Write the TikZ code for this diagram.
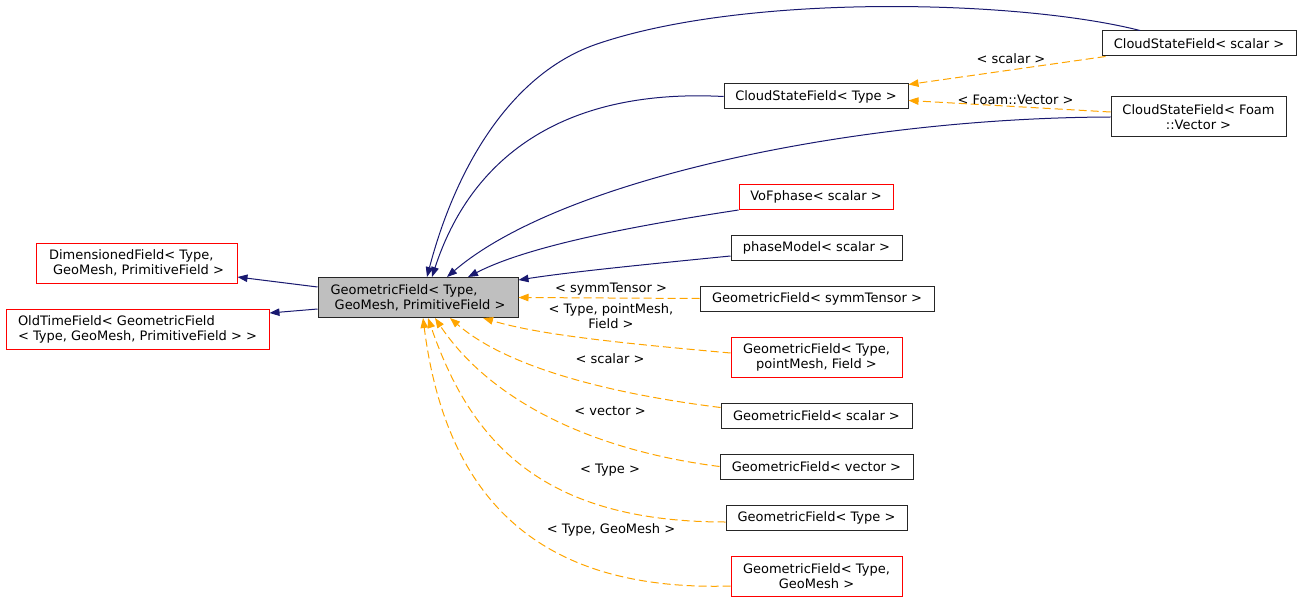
\documentclass[tikz,border=0pt]{standalone}
\usepackage{fontspec}
\setmainfont{DejaVu Sans}
\usetikzlibrary{arrows.meta, calc}
\definecolor{inhblue}{HTML}{191970}
\definecolor{tmplorange}{HTML}{FFA500}
\definecolor{curgray}{HTML}{BFBFBF}

\begin{document}
\begin{tikzpicture}[
      x=0.75pt, y=-0.75pt,
      font=\fontsize{9.75}{11.3}\selectfont,
      >={Triangle[length=7.5pt,width=5.6pt]},
      cls/.style={draw=black!85, fill=white, line width=0.75pt, inner sep=0pt,
        minimum height=18.75pt, align=center},
      undoc/.style={cls, draw=red},
      current/.style={cls, fill=curgray},
      tall/.style={minimum height=30pt},
      boxw/.style={minimum width=#1*0.75pt},
      inherit/.style={->, draw=inhblue, line width=0.75pt},
      tmpl/.style={->, draw=tmplorange, line width=0.75pt, dash pattern=on 6pt off 3pt},
      lbl/.style={align=center, inner sep=0pt}
      ]

      \useasboundingbox (0,0) rectangle (1301,602);

      % the class itself and its bases
      \node[current, tall, boxw=200, align=left] (gf)       at (418,297.5)  {GeometricField< Type,\\\ GeoMesh, PrimitiveField >};
      \node[undoc, tall, boxw=201, align=left]   (dimfield) at (136.5,263)  {DimensionedField< Type,\\\ GeoMesh, PrimitiveField >};
      \node[undoc, tall, boxw=263, align=left]   (oldtime)  at (137.5,329.5) {OldTimeField< GeometricField\\{}< Type, GeoMesh, PrimitiveField > >};

      % derived classes and instances
      \node[cls, boxw=194]           (csfscalar)  at (1199,43.5)   {CloudStateField< scalar >};
      \node[cls, boxw=184]           (csftype)    at (816,96.5)    {CloudStateField< Type >};
      \node[cls, tall, boxw=175]     (csfvector)  at (1198.5,117)  {CloudStateField< Foam\\::Vector >};
      \node[undoc, boxw=154]         (vofphase)   at (816,197)     {VoFphase< scalar >};
      \node[cls, boxw=171]           (phasemodel) at (816.5,248)   {phaseModel< scalar >};
      \node[cls, boxw=234]           (gfsymm)     at (817,298.5)   {GeometricField< symmTensor >};
      \node[undoc, tall, boxw=171]   (gfpoint)    at (816.5,357)   {GeometricField< Type,\\pointMesh, Field >};
      \node[cls, boxw=191]           (gfscalar)   at (816.5,415.5) {GeometricField< scalar >};
      \node[cls, boxw=193]           (gfvector)   at (816.5,466.5) {GeometricField< vector >};
      \node[cls, boxw=181]           (gftype)     at (816.5,517.5) {GeometricField< Type >};
      \node[undoc, tall, boxw=171]   (gfgeomesh)  at (816.5,576)   {GeometricField< Type,\\GeoMesh >};

      % inheritance
      \draw[inherit] ($(gf.west)+(0,-10.5)$) -- ($(dimfield.east)+(0,14)$);
      \draw[inherit] ($(gf.west)+(0,11.5)$) -- ($(oldtime.east)+(0,-16.5)$);
      \draw[inherit] ($(csfscalar.north)+(-59,0)$) .. controls (1020,0) and (750,-7) .. (600,43)
        .. controls (510,72) and (455,170) .. ($(gf.north)+(9,0)$);
      \draw[inherit] (csftype.west) .. controls (560,88) and (470,160) .. ($(gf.north)+(14,0)$);
      \draw[inherit] (csfvector.west) .. controls (850,118) and (560,180) .. ($(gf.north)+(29,0)$);
      \draw[inherit] (vofphase.south west) .. controls (640,225) and (530,245) .. ($(gf.north)+(50,0)$);
      \draw[inherit] ($(phasemodel.west)+(0,8)$) .. controls (640,265) and (570,272) .. ($(gf.east)+(0,-17.5)$);

      % template instances
      \draw[tmpl] ($(csfscalar.south west)+(4,0)$) -- ($(csftype.east)+(0,-12)$)
        node[lbl, pos=0.48, above=4pt] {< scalar >};
      \draw[tmpl] ($(csfvector.west)+(0,-5)$) -- ($(csftype.east)+(0,4)$)
        node[lbl, pos=0.47, above=1pt] {< Foam::Vector >};
      \draw[tmpl] (gfsymm.west) -- (gf.east);
      \draw[tmpl] ($(gfpoint.west)+(0,-4)$) .. controls (620,343) and (540,335) .. ($(gf.south)+(65,0)$);
      \draw[tmpl] ($(gfscalar.west)+(0,-8)$) .. controls (620,395) and (510,370) .. ($(gf.south)+(32,0)$);
      \draw[tmpl] (gfvector.west) .. controls (590,450) and (490,400) .. ($(gf.south)+(17,0)$);
      \draw[tmpl] ($(gftype.west)+(0,4.5)$) .. controls (540,522) and (470,440) .. ($(gf.south)+(10,0)$);
      \draw[tmpl] ($(gfgeomesh.west)+(0,10)$) .. controls (530,592) and (445,490) .. ($(gf.south)+(5,0)$);

      \node[lbl] (lsymm)   at (611,289) {< symmTensor >};
      \node[lbl] (lpoint)  at (611,316) {< Type, pointMesh,\\Field >};
      \node[lbl] (lscalar) at (610,359) {< scalar >};
      \node[lbl] (lvector) at (610,411) {< vector >};
      \node[lbl] (ltype)   at (610,470) {< Type >};
      \node[lbl] (lgeo)    at (611,530) {< Type, GeoMesh >};
    \end{tikzpicture}
\end{document}
